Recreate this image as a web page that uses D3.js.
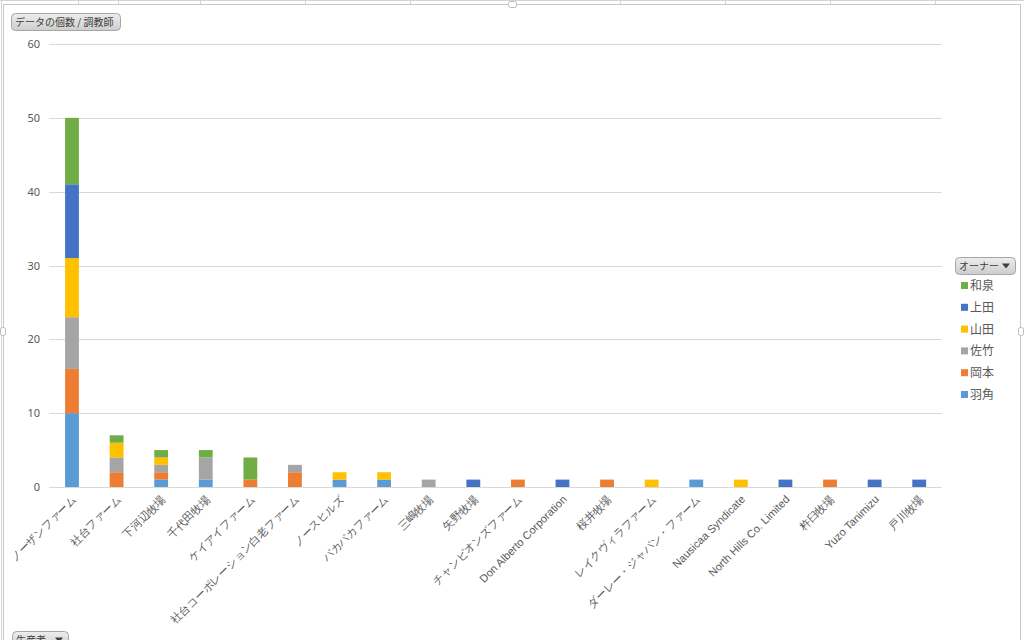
<!DOCTYPE html>
<html><head><meta charset="utf-8">
<script src="https://cdn.jsdelivr.net/npm/d3@7"></script>
<style>
body{margin:0;background:#fff;}
svg{display:block;font-family:"Noto Sans CJK JP","Noto Sans",sans-serif;}
</style></head><body>
<svg id="c" width="1024" height="640"></svg>
<script>
const categories = ["ノーザンファーム","社台ファーム","下河辺牧場","千代田牧場","ケイアイファーム","社台コーポレーション白老ファーム","ノースヒルズ","パカパカファーム","三嶋牧場","矢野牧場","チャンピオンズファーム","Don Alberto Corporation","桜井牧場","レイクヴィラファーム","ダーレー・ジャパン・ファーム","Nausicaa Syndicate","North Hills Co. Limited","杵臼牧場","Yuzo Tanimizu","戸川牧場"];
const seriesNames = ["羽角","岡本","佐竹","山田","上田","和泉"];
const seriesColors = ["#5B9BD5","#ED7D31","#A5A5A5","#FFC000","#4472C4","#70AD47"];
const v羽角 = [10,0,1,1,0,0,1,1,0,0,0,0,0,0,1,0,0,0,0,0];
const v岡本 = [6,2,1,0,1,2,0,0,0,0,1,0,1,0,0,0,0,1,0,0];
const v佐竹 = [7,2,1,3,0,1,0,0,1,0,0,0,0,0,0,0,0,0,0,0];
const v山田 = [8,2,1,0,0,0,1,1,0,0,0,0,0,1,0,1,0,0,0,0];
const v上田 = [10,0,0,0,0,0,0,0,0,1,0,1,0,0,0,0,1,0,1,1];
const v和泉 = [9,1,1,1,3,0,0,0,0,0,0,0,0,0,0,0,0,0,0,0];
const yTicks = [0,10,20,30,40,50,60];

const seriesValues = [v羽角,v岡本,v佐竹,v山田,v上田,v和泉];
const rows = categories.map((c,i)=>{const r={cat:c}; seriesNames.forEach((s,j)=>r[s]=seriesValues[j][i]); return r;});
const stacked = d3.stack().keys(seriesNames)(rows);

const svg = d3.select("#c");
const defs = svg.append("defs");
const lg = defs.append("linearGradient").attr("id","btn").attr("x1",0).attr("x2",0).attr("y1",0).attr("y2",1);
lg.append("stop").attr("offset","0%").attr("stop-color","#ededed");
lg.append("stop").attr("offset","100%").attr("stop-color","#cdcdcd");

// spreadsheet background lines
const bg = svg.append("g");
bg.append("line").attr("x1",0).attr("x2",1024).attr("y1",0.5).attr("y2",0.5).attr("stroke","#d4d4d4");
[78,118,200,305,410,515,620,725,830,935].forEach(x=>bg.append("line").attr("x1",x+0.5).attr("x2",x+0.5).attr("y1",0).attr("y2",4).attr("stroke","#d4d4d4"));
// chart frame
svg.append("rect").attr("x",3.5).attr("y",4.5).attr("width",1017).attr("height",640).attr("fill","#fff").attr("stroke","#c8c8c8");
svg.append("line").attr("x1",1.5).attr("x2",1.5).attr("y1",0).attr("y2",640).attr("stroke","#d4d4d4");
// handles
svg.append("rect").attr("x",508.5).attr("y",1.5).attr("width",8).attr("height",6).attr("rx",2).attr("fill","#fff").attr("stroke","#bbb");
svg.append("rect").attr("x",0.5).attr("y",327.5).attr("width",5).attr("height",8).attr("rx",2).attr("fill","#fff").attr("stroke","#bbb");
svg.append("rect").attr("x",1018.5).attr("y",327.5).attr("width",5).attr("height",8).attr("rx",2).attr("fill","#fff").attr("stroke","#bbb");

const x = d3.scaleBand().domain(categories).range([49.7,941.5]).paddingInner(0.69).paddingOuter(0.345);
const y = d3.scaleLinear().domain([0,60]).range([487,44]);

// grid
const grid = svg.append("g");
grid.selectAll("line").data(yTicks).join("line")
  .attr("x1",49).attr("x2",942).attr("y1",d=>Math.round(y(d))+0.5).attr("y2",d=>Math.round(y(d))+0.5)
  .attr("stroke","#d9d9d9").attr("stroke-width",1);

// y axis labels
const yAxis = d3.axisLeft(y).tickValues(yTicks).tickSize(0).tickPadding(0);
const ya = svg.append("g").attr("transform","translate(40,0)").call(yAxis);
ya.select(".domain").remove();
ya.selectAll("text").attr("font-size",11).attr("fill","#595959").attr("font-family","'Noto Sans','DejaVu Sans',sans-serif");

// bars
svg.append("g").selectAll("g").data(stacked).join("g")
  .attr("fill",(d,i)=>seriesColors[i])
  .selectAll("rect").data(d=>d.filter(p=>p[1]>p[0])).join("rect")
  .attr("x",d=>x(d.data.cat)).attr("width",x.bandwidth())
  .attr("y",d=>y(d[1])).attr("height",d=>y(d[0])-y(d[1]));

// x axis
const xa = svg.append("g").attr("transform","translate(0,487)").call(d3.axisBottom(x).tickSize(0).tickPadding(0));
xa.select(".domain").remove();
xa.selectAll("text")
  .attr("font-size",11).attr("fill","#595959")
  .attr("text-anchor","end").attr("dy",0)
  .attr("transform","translate(5,13) rotate(-45)");

// buttons
function button(x0,y0,w,h,label,arrow){
  const g = svg.append("g");
  g.append("rect").attr("x",x0+0.5).attr("y",y0+0.5).attr("width",w).attr("height",h).attr("rx",4)
    .attr("fill","url(#btn)").attr("stroke","#a6a6a6");
  g.append("text").attr("x",x0+4).attr("y",y0+h/2+4).attr("font-size",10).attr("fill","#404040").attr("xml:space","preserve").text(label);
  if(arrow){
    g.append("path").attr("d",`M${x0+w-13},${y0+h/2-2} l8,0 l-4,5 z`).attr("fill","#404040");
  }
}

button(11,13,109,17,"データの個数 / 調教師",false);
button(955,257,60,17,"オーナー",true);
button(12,631,56,17,"生産者",true);

// legend
const legendOrder = [5,4,3,2,1,0];
const leg = svg.append("g");
legendOrder.forEach((si,k)=>{
  const ly = 285 + k*21.8;
  leg.append("rect").attr("x",961).attr("y",ly-3).attr("width",7).attr("height",7).attr("fill",seriesColors[si]);
  leg.append("text").attr("x",970).attr("y",ly+5).attr("font-size",12).attr("fill","#595959").text(seriesNames[si]);
});
</script>
</body></html>
